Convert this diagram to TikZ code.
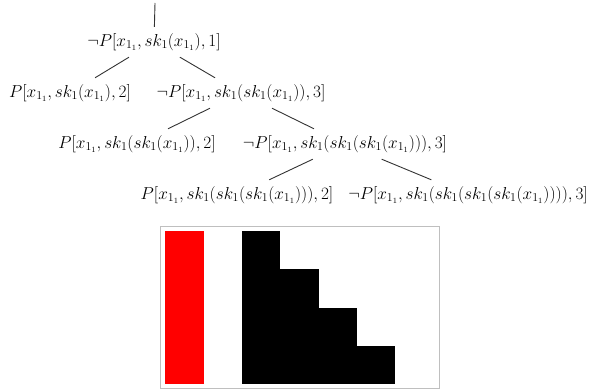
\documentclass[tikz,border=0pt]{standalone}
\usepackage{amsmath}
\usepackage{amssymb}
\usepackage{xcolor}
\usepackage{tikz}

\begin{document}
\begin{tikzpicture}[x=1pt, y=-1pt, font=\fontsize{17}{20}\selectfont,
        term/.style={inner sep=0pt, minimum height=30pt},
        branch/.style={black!80, line width=0.9pt}]
        \useasboundingbox (0,0) rectangle (592,390);
        % resolution tree
        \coordinate (root) at (155,3);
        \node[term] (n1) at (154,42) {$\neg P[x_{1_1},sk_1(x_{1_1}),1]$};
        \node[term] (n2a) at (70,93) {$P[x_{1_1},sk_1(x_{1_1}),2]$};
        \node[term] (n2b) at (241,93) {$\neg P[x_{1_1},sk_1(sk_1(x_{1_1})),3]$};
        \node[term] (n3a) at (137,144) {$P[x_{1_1},sk_1(sk_1(x_{1_1})),2]$};
        \node[term] (n3b) at (345,144) {$\neg P[x_{1_1},sk_1(sk_1(sk_1(x_{1_1}))),3]$};
        \node[term] (n4a) at (237,195) {$P[x_{1_1},sk_1(sk_1(sk_1(x_{1_1}))),2]$};
        \node[term] (n4b) at (468,195) {$\neg P[x_{1_1},sk_1(sk_1(sk_1(sk_1(x_{1_1})))),3]$};
        \draw[branch] (root) -- (n1);
        \draw[branch] (n1) -- (n2a);
        \draw[branch] (n1) -- (n2b);
        \draw[branch] (n2b) -- (n3a);
        \draw[branch] (n2b) -- (n3b);
        \draw[branch] (n3b) -- (n4a);
        \draw[branch] (n3b) -- (n4b);
        % clause picture
        \draw[black!25, line width=1pt] (160.5,227) rectangle (439,388);
        \fill[red] (165,231) rectangle (204,384);
        \foreach \i in {0,...,3} {
          \fill[black] (242+38.25*\i,231+38.25*\i) rectangle (280.25+38.25*\i,384);}
      \end{tikzpicture}
\end{document}
